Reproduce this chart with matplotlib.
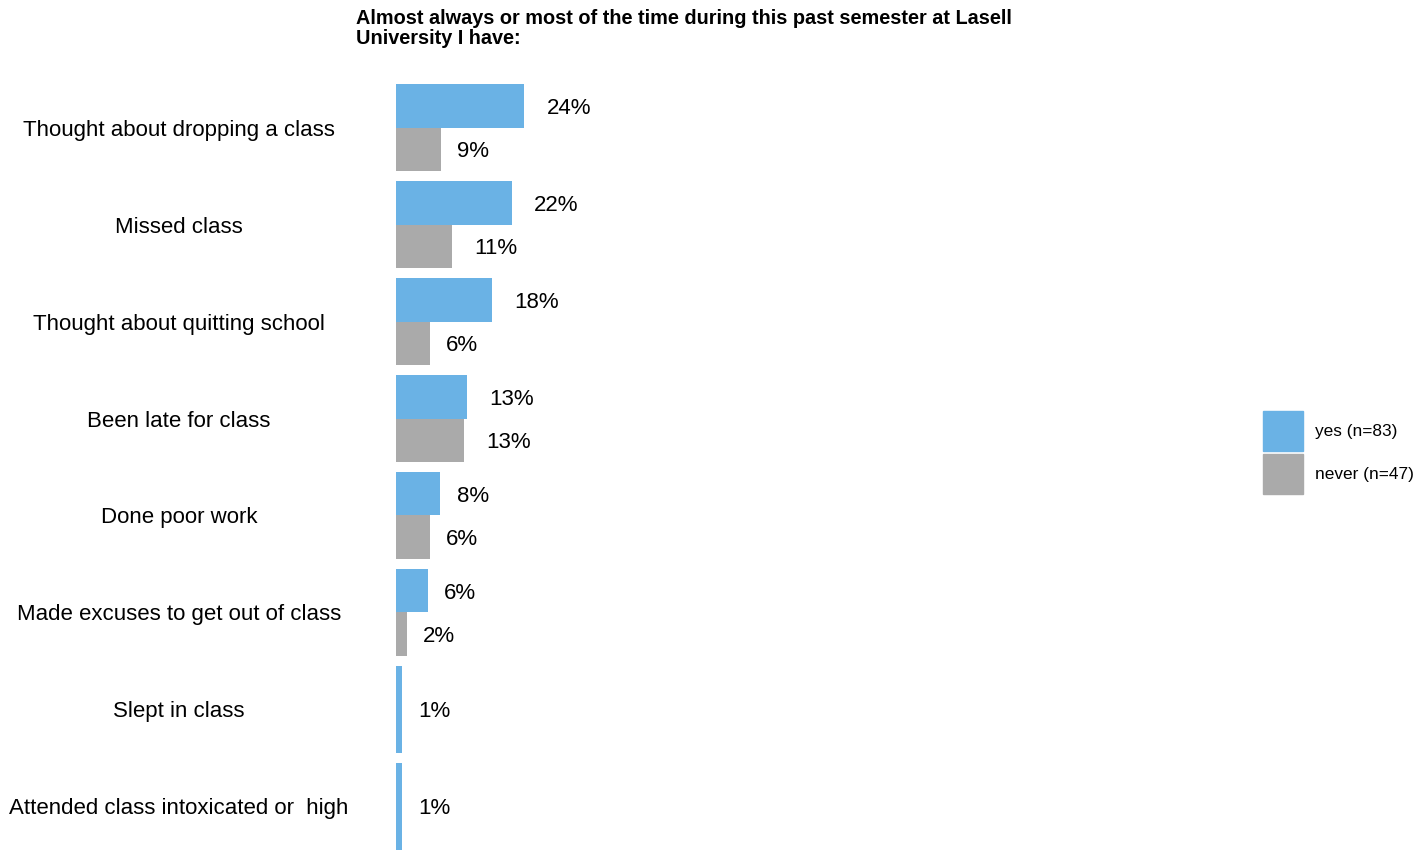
import numpy as np
import matplotlib
matplotlib.use("Agg")
import matplotlib.pyplot as plt
import matplotlib.transforms as mtransforms
from matplotlib.patches import Patch

plt.rcParams['font.family'] = ['Liberation Sans', 'DejaVu Sans']

# %% Data
items = ["Thought about dropping a class",
         "Missed class",
         "Thought about quitting school",
         "Been late for class",
         "Done poor work",
         "Made excuses to get out of class",
         "Slept in class",
         "Attended class intoxicated or  high"]
yes_pct = [24.1, 21.7, 18.1, 13.3, 8.4, 6.0, 1.2, 1.2]
never_pct = [8.5, 10.6, 6.4, 12.8, 6.4, 2.1, np.nan, np.nan]
group_names = ["yes (n=83)", "never (n=47)"]
title_lines = ["Almost always or most of the time during this past semester at Lasell",
               "University I have:"]

blue = '#6AB2E5'
grey = '#AAAAAA'

# %% Figure
W, H = 1427, 850
fig = plt.figure(figsize=(W / 100, H / 100), dpi=100)
ax_left, ax_top, ax_bottom = 395.5, 84, 850
ax = fig.add_axes([ax_left / W, 1 - ax_bottom / H, 800 / W, (ax_bottom - ax_top) / H])

ypos = np.arange(len(items))
bar_w = 0.9
bars = []  # (value, y) for labelling
for i, (yv, nv) in enumerate(zip(yes_pct, never_pct)):
    if np.isnan(nv):
        ax.barh(ypos[i], yv, height=bar_w, color=blue)
        bars.append((yv, ypos[i]))
    else:
        ax.barh(ypos[i] - bar_w / 4, yv, height=bar_w / 2, color=blue)
        ax.barh(ypos[i] + bar_w / 4, nv, height=bar_w / 2, color=grey)
        bars.append((yv, ypos[i] - bar_w / 4))
        bars.append((nv, ypos[i] + bar_w / 4))

ax.set_xlim(0, 800 / 5.35)
ax.set_ylim(len(items) - 1 + bar_w / 2, -bar_w / 2)

# value labels, pushed right by half their own width
renderer = fig.canvas.get_renderer()
for v, y in bars:
    t = ax.text(v, y, f"{int(np.floor(v + 0.5))}%", ha='left', va='center_baseline',
                fontsize=16, color='black')
    w = t.get_window_extent(renderer).width
    t.set_transform(mtransforms.offset_copy(ax.transData, fig=fig, x=w / 2, units='dots'))

ax.set_yticks(ypos)
ax.set_yticklabels(items, fontsize=16)
ax.set_xticks([])
ax.tick_params(axis='y', length=0, pad=(ax_left - 179) * 72 / 100)
for lab in ax.get_yticklabels():
    lab.set_ha('center')
for s in ax.spines.values():
    s.set_visible(False)

# two-line bold title, baselines set by hand
for line, base in zip(title_lines, [24.5, 44.5]):
    fig.text(356 / W, 1 - base / H, line, ha='left', va='baseline', fontsize=14.3,
             fontweight='bold')

fs = 12.4
fs_px = fs * 100 / 72
handles = [Patch(color=blue), Patch(color=grey)]
fig.legend(handles, group_names, loc='upper left',
           bbox_to_anchor=(1263 / W, 1 - 411 / H), frameon=False, fontsize=fs,
           borderpad=0, borderaxespad=0, handlelength=40 / fs_px,
           handleheight=3.2, labelspacing=3 / fs_px,
           handletextpad=12 / fs_px)

fig.savefig("out.png", dpi=100)
